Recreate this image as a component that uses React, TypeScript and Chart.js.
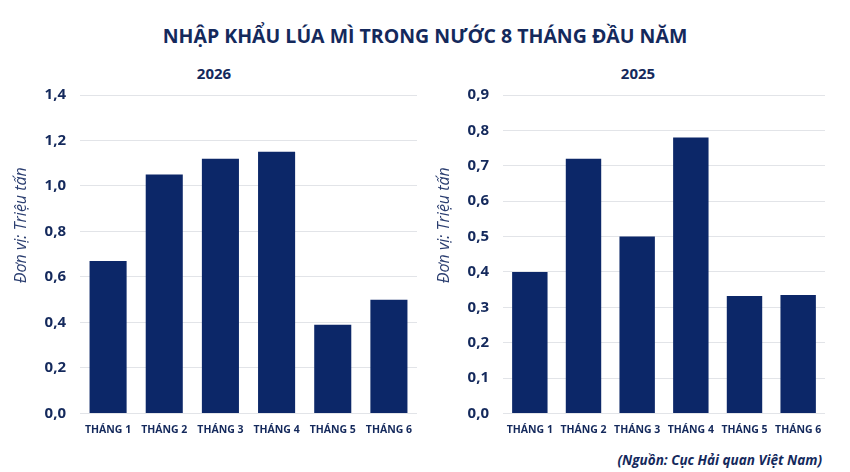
import { useEffect, useRef } from "react";
import { Chart, registerables, type Plugin } from "chart.js";

Chart.register(...registerables);

const months = ["THÁNG 1", "THÁNG 2", "THÁNG 3", "THÁNG 4", "THÁNG 5", "THÁNG 6"];
const imports2026 = [0.67, 1.05, 1.12, 1.15, 0.39, 0.5];
const imports2025 = [0.4, 0.72, 0.5, 0.78, 0.332, 0.335];
const axisMax2026 = 1.4;
const axisStep2026 = 0.2;
const axisMax2025 = 0.9;
const axisStep2025 = 0.1;

const BAR = "#0c2768";
const INK = "#14295c";
const FONT = "'Open Sans', sans-serif";

function unitNote(text: string, x: number): Plugin<"bar"> {
  return {
    id: "unitNote",
    afterDraw(chart) {
      const { ctx, chartArea } = chart;
      ctx.save();
      ctx.translate(x, (chartArea.top + chartArea.bottom) / 2 - 29);
      ctx.rotate(-Math.PI / 2);
      ctx.font = `italic 16px ${FONT}`;
      ctx.fillStyle = "#2b3e70";
      ctx.textAlign = "center";
      ctx.textBaseline = "middle";
      ctx.fillText(text, 0, 0);
      ctx.restore();
    }
  };
}

type PanelProps = {
  left: number;
  title: string;
  titleCenter: number;
  values: number[];
  max: number;
  step: number;
  axisWidth: number;
  rightPad: number;
  noteX: number;
};

function BarPanel({ left, title, titleCenter, values, max, step, axisWidth, rightPad, noteX }: PanelProps) {
  const canvasRef = useRef<HTMLCanvasElement | null>(null);

  useEffect(() => {
    const canvas = canvasRef.current;
    if (!canvas) return;

    const chart = new Chart(canvas, {
      type: "bar",
      data: {
        labels: months,
        datasets: [
          {
            label: title,
            data: values,
            backgroundColor: BAR,
            barPercentage: 0.66,
            categoryPercentage: 1
          }
        ]
      },
      options: {
        responsive: true,
        maintainAspectRatio: false,
        animation: false,
        layout: { padding: { top: 40, right: rightPad, bottom: 0, left: 0 } },
        plugins: {
          legend: { display: false },
          tooltip: { enabled: false },
          title: { display: false }
        },
        scales: {
          x: {
            grid: { display: false, drawTicks: false },
            border: { display: false },
            ticks: {
              color: INK,
              padding: 10,
              maxRotation: 0,
              font: { family: FONT, size: 10.5, weight: "bold" }
            }
          },
          y: {
            min: 0,
            max,
            afterFit: (scale) => {
              scale.width = axisWidth;
            },
            ticks: {
              stepSize: step,
              color: INK,
              padding: 14,
              font: { family: FONT, size: 15, weight: "bold" },
              callback: (value) => Number(value).toFixed(1).replace(".", ",")
            },
            grid: { color: "#e2e4e8", drawTicks: false },
            border: { display: false }
          }
        }
      },
      plugins: [unitNote("Đơn vị: Triệu tấn", noteX)]
    });

    return () => chart.destroy();
  }, [title, values, max, step, axisWidth, rightPad, noteX]);

  return (
    <>
      <div
        style={{
          position: "absolute",
          left: titleCenter - 60,
          top: 63,
          width: 120,
          textAlign: "center",
          fontSize: 15,
          lineHeight: "20px",
          fontWeight: 700
        }}
      >
        {title}
      </div>
      <div style={{ position: "absolute", left, top: 55, width: 425, height: 391 }}>
        <canvas ref={canvasRef} />
      </div>
    </>
  );
}

export default function App() {
  return (
    <div
      style={{
        position: "absolute",
        left: 0,
        top: 0,
        width: 850,
        height: 472,
        background: "#ffffff",
        fontFamily: FONT,
        color: INK
      }}
    >
      <div
        style={{
          position: "absolute",
          left: 0,
          top: 24,
          width: 850,
          textAlign: "center",
          fontSize: 19.5,
          lineHeight: "24px",
          fontWeight: 700
        }}
      >
        NHẬP KHẨU LÚA MÌ TRONG NƯỚC 8 THÁNG ĐẦU NĂM
      </div>
      <BarPanel
        left={0}
        title="2026"
        titleCenter={214}
        values={imports2026}
        max={axisMax2026}
        step={axisStep2026}
        axisWidth={80}
        rightPad={8}
        noteX={21}
      />
      <BarPanel
        left={425}
        title="2025"
        titleCenter={638}
        values={imports2025}
        max={axisMax2025}
        step={axisStep2025}
        axisWidth={78}
        rightPad={25}
        noteX={19}
      />
      <div
        style={{
          position: "absolute",
          right: 28,
          top: 451,
          fontSize: 13.5,
          lineHeight: "18px",
          fontWeight: 700,
          fontStyle: "italic"
        }}
      >
        (Nguồn: Cục Hải quan Việt Nam)
      </div>
    </div>
  );
}
